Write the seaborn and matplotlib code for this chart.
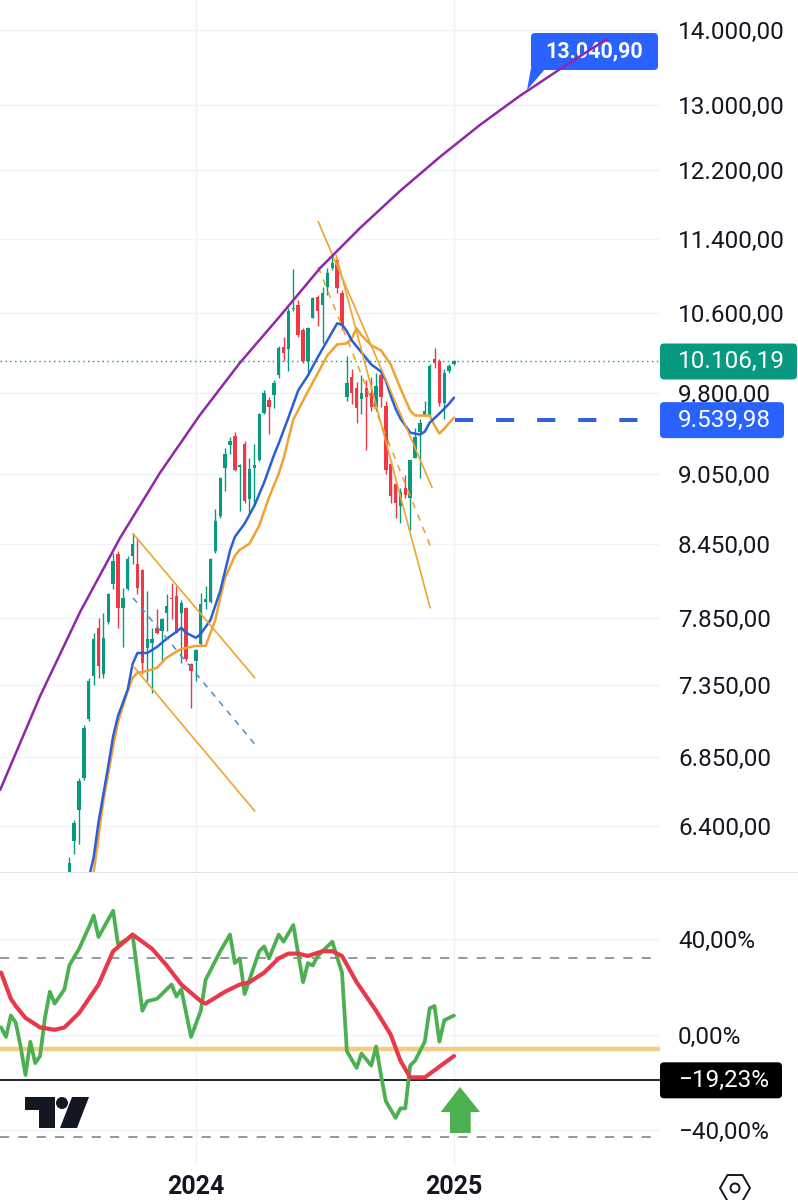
import matplotlib
matplotlib.use("Agg")
import matplotlib.pyplot as plt
from matplotlib.patches import FancyBboxPatch, Polygon, Circle, RegularPolygon, Rectangle
from matplotlib.ticker import FixedLocator, FuncFormatter, NullLocator
import seaborn as sns

# ---------------------------------------------------------------------------
# Data (weekly bars, index 0 = first visible candle, 26 = first week of 2024)
# ---------------------------------------------------------------------------
opens = [6120, 6305, 6500, 6710, 7110, 7420, 7780, 7430, 7820, 8120,
         8365, 7930, 8080, 8350, 8285, 8230, 7625, 7665, 7780, 7755,
         7895, 8010, 8025, 7895, 7930, 7505, 7530, 7655, 7975, 7975,
         8390, 8685, 9105, 9305, 9395, 9110, 9320, 8830, 9100, 9170,
         9610, 9735, 9775, 9970, 10255, 10235, 10640, 10680, 10420, 10115,
         10550, 10765, 10680, 10870, 11075, 11165, 10805, 9755, 9950, 9850,
         9745, 9850, 9800, 9660, 9970, 9675, 9140, 8960, 8770, 8920,
         8840, 9195, 9425, 9585, 9585, 10135, 10115, 9705, 10015, 10080]
highs = [6210, 6440, 6710, 7070, 7400, 7740, 7850, 7890, 8050, 8370,
         8390, 8090, 8350, 8540, 8500, 8245, 8065, 7778, 7925, 7850,
         8040, 8130, 8105, 7990, 7935, 7510, 7620, 8050, 8105, 8330,
         8745, 9020, 9285, 9380, 9425, 9140, 9350, 9195, 9323, 9610,
         9822, 9755, 9920, 10265, 10350, 10650, 11065, 10735, 10440, 10450,
         10765, 10785, 10870, 11075, 11220, 11185, 10838, 10165, 10035, 9900,
         9970, 9920, 9950, 9990, 9995, 9725, 9170, 8975, 8920, 9035,
         9175, 9470, 9550, 9725, 10085, 10245, 10135, 10035, 10085, 10125]
lows = [6080, 6230, 6290, 6700, 7100, 7350, 7400, 7400, 7810, 8080,
        7780, 7630, 8070, 8285, 8040, 7430, 7385, 7296, 7730, 7530,
        7755, 7847, 7740, 7515, 7530, 7190, 7385, 7650, 7925, 7970,
        8375, 8665, 8900, 9230, 9075, 8727, 8790, 8700, 8770, 9165,
        9602, 9415, 9650, 9940, 10115, 10015, 10620, 10350, 10095, 9990,
        10550, 10470, 10290, 10785, 11055, 10815, 10420, 9725, 9695, 9515,
        9600, 9260, 9630, 9630, 9660, 9050, 8790, 8665, 8625, 8840,
        8560, 9190, 9015, 9580, 9565, 10045, 9677, 9555, 9995, 10070]
closes = [6170, 6417, 6690, 7050, 7380, 7695, 7490, 7700, 8040, 8310,
          7930, 8010, 8325, 8450, 8090, 7510, 7695, 7695, 7740, 7847,
          7948, 8000, 7740, 7970, 7545, 7455, 7610, 7965, 8000, 8324,
          8640, 9015, 9230, 9350, 9080, 9125, 8815, 9095, 9125, 9600,
          9795, 9660, 9890, 10245, 10195, 10625, 10655, 10370, 10115, 10440,
          10755, 10625, 10815, 11030, 11130, 10860, 10470, 9890, 9795, 9650,
          9800, 9755, 9660, 9870, 9755, 9080, 8855, 8790, 8885, 8860,
          9170, 9380, 9515, 9630, 10065, 10095, 9705, 9995, 10065, 10106.19]

fast_ma_bar = [4, 5, 6, 8, 9, 10, 12, 13, 14, 16, 18, 20, 22, 23, 24, 26, 27, 29, 31, 33,
               34, 36, 38, 40, 42, 43, 45, 47, 49, 51, 53, 55, 56, 57, 58, 60, 62, 64, 65, 66,
               67, 68, 70, 72, 73, 74, 76, 78, 79]
fast_ma = [6080, 6207, 6425, 6790, 6992, 7132, 7320, 7507, 7588, 7588, 7633, 7695, 7748, 7778,
           7740, 7702, 7732, 7839, 8066, 8390, 8506, 8617, 8770, 8972, 9214, 9323, 9564, 9822,
           9968, 10147, 10318, 10492, 10482, 10410, 10318, 10197, 10077, 10007, 9919, 9774,
           9648, 9555, 9424, 9405, 9433, 9516, 9602, 9696, 9753]

slow_ma_bar = [5, 7, 9, 10, 12, 13, 14, 16, 18, 20, 22, 23, 26, 28, 30, 31, 32, 34, 35, 37,
               39, 41, 43, 44, 46, 49, 53, 55, 57, 58, 59, 60, 62, 64, 66, 68, 70, 71, 74, 75,
               76, 77, 79]
slow_ma = [6115, 6560, 6920, 7090, 7310, 7405, 7441, 7455, 7478, 7553, 7598, 7618, 7641, 7641,
           7840, 8010, 8170, 8349, 8398, 8449, 8600, 8840, 9050, 9187, 9546, 9813, 10167, 10277,
           10288, 10339, 10441, 10370, 10267, 10217, 10077, 9841, 9630, 9583, 9583, 9490,
           9415, 9461, 9564]

arc_bar = [-14.2, -6.0, 2.2, 10.4, 18.6, 26.8, 35.0, 43.3, 51.5, 59.7, 67.9, 76.1,
           84.3, 92.5, 100.8, 110.4]
arc_val = [6632, 7273, 7899, 8495, 9057, 9587, 10091, 10569, 11078, 11523, 11950, 12357,
           12751, 13121, 13473, 13877]

# trend channels: (bar0, bar1), (price0, price1)
chan1_bar = [13.1, 38.1]
chan1_top = [8532, 7405]
chan1_bot = [7492, 6495]
chan1_mid = [8010, 6937]
chan2_top_bar, chan2_top = [51.1, 74.5], [11598, 8927]
chan2_bot_bar, chan2_bot = [54.8, 74.1], [11219, 7932]
chan2_mid_bar, chan2_mid = [51.1, 74.1], [11090, 8432]

last_price = 10106.19
support = 9539.98
support_bar = [79.2, 117.2]
arc_label = "13.040,90"

osc_bar = [-14, -13, -12, -11, -10, -9, -8, -7, -6, -5, -4, -3, -1, 0, 2, 4, 5, 6, 9, 10,
           12, 13, 15, 16, 18, 20, 21, 22, 23, 25, 27, 28, 31, 33, 34, 35, 36, 37, 39, 40,
           41, 43, 44, 46, 48, 49, 50, 51, 53, 54, 56, 57, 59, 60, 62, 63, 64, 65, 67, 68,
           69, 70, 71, 73, 74, 75, 76, 77, 79]
osc = [3, -1, 8, 5, -5, -17, -3, -12, -9, 7, 18, 13, 19, 29, 36, 45, 50, 41, 52, 38,
       40, 42, 10, 14, 15, 19, 21, 16, 19, -1, 10, 23, 35, 42, 30, 32, 17, 23, 35, 37,
       32, 42, 39, 46, 22, 30, 29, 33, 37, 39, 26, -7, -14, -8, -13, -5, -17, -28, -35, -31,
       -31, -13, -11, -3, 11, 12, -3, 6, 8]
signal_bar = [-14, -12, -11, -9, -6, -3, -1, 2, 6, 9, 13, 17, 20, 23, 27, 28, 32, 35, 37, 40,
              43, 45, 47, 49, 52, 54, 56, 59, 63, 66, 68, 70, 73, 75, 77, 79]
signal = [26, 15, 12, 7, 3, 2, 3, 9, 21, 35, 42, 36, 29, 21, 14, 13, 18, 21, 22, 26,
          32, 34, 34, 33, 35, 35, 33, 22, 10, 0, -11, -18, -18, -15, -12, -9]
osc_level = -6
osc_upper, osc_lower = 32, -43
osc_last = -19.23

price_ticks = [6400, 6850, 7350, 7850, 8450, 9050, 9800, 10600, 11400, 12200, 13000, 14000]
osc_ticks = [-40, 0, 40]
year_bars = [26, 79]
year_labels = ["2024", "2025"]

# ---------------------------------------------------------------------------
# Style
# ---------------------------------------------------------------------------
GREEN = "#089981"
RED = "#f23645"
BLUE = "#2a5fd9"
ORANGE = "#f0a330"
PURPLE = "#9027a8"
W, H, DPI = 798, 1200, 100

sns.set_theme(style="white")
plt.rcParams["font.family"] = ["Roboto", "DejaVu Sans"]


def de_num(v):
    s = f"{abs(v):,.2f}".replace(",", "X").replace(".", ",").replace("X", ".")
    return ("\u2212" if v < 0 else "") + s


def tag(fig, x0, x1, yc, h, text, fc, bold=False, size=17.5, zorder=10, tx=None, ax=None):
    # yc is in display pixels from the bottom; x0/x1 in pixels from the left
    host = ax if ax is not None else fig
    box = FancyBboxPatch((x0 / DPI, (yc - h / 2) / DPI), (x1 - x0) / DPI, h / DPI,
                         boxstyle="round,pad=0,rounding_size=0.04",
                         transform=fig.dpi_scale_trans, fc=fc, ec="none",
                         zorder=zorder, clip_on=False)
    host.add_artist(box)
    tx = x0 + 18 if tx is None else tx
    host_text = ax.text if ax is not None else fig.text
    host_text(tx / DPI, yc / DPI, text, transform=fig.dpi_scale_trans, color="white",
              fontsize=size, fontweight="bold" if bold else "normal",
              va="center", ha="left" if ax is None else "center",
              zorder=zorder + 0.5, clip_on=False)


fig = plt.figure(figsize=(W / DPI, H / DPI), dpi=DPI)
fig.patch.set_facecolor("white")

ax = fig.add_axes([0, 1 - 872 / H, 660 / W, 872 / H])
ax2 = fig.add_axes([0, 1 - 1165 / H, 660 / W, (1165 - 876) / H])

# ---------------------------------------------------------------------------
# Price panel
# ---------------------------------------------------------------------------
ax.set_yscale("log")
ax.set_xlim(-14.23, 121.3)
ax.set_ylim(6118, 14419)
for b in year_bars:
    ax.axvline(b, color="#f0f3fa", lw=1, zorder=0)
for t in price_ticks:
    ax.axhline(t, color="#f0f3fa", lw=1, zorder=0)

bars = list(range(len(opens)))
cols = [GREEN if c >= o else RED for o, c in zip(opens, closes)]
ax.vlines(bars, lows, highs, colors=cols, lw=1.0, zorder=3)
body_lo = [min(o, c) for o, c in zip(opens, closes)]
body_h = [max(abs(c - o), 12) for o, c in zip(opens, closes)]
ax.bar(bars, body_h, bottom=body_lo, width=0.7, color=cols, lw=0, zorder=3)

sns.lineplot(x=slow_ma_bar, y=slow_ma, ax=ax, color=ORANGE, lw=1.8, zorder=4, errorbar=None)
sns.lineplot(x=fast_ma_bar, y=fast_ma, ax=ax, color=BLUE, lw=1.8, zorder=4, errorbar=None)
sns.lineplot(x=arc_bar, y=arc_val, ax=ax, color=PURPLE, lw=1.8, zorder=6, errorbar=None)

ax.plot(chan1_bar, chan1_top, color=ORANGE, lw=1.2, zorder=5)
ax.plot(chan1_bar, chan1_bot, color=ORANGE, lw=1.2, zorder=5)
ax.plot(chan1_bar, chan1_mid, color="#4a90c8", lw=1.1, ls=(0, (4, 4)), zorder=5)
ax.plot(chan2_top_bar, chan2_top, color=ORANGE, lw=1.2, zorder=5)
ax.plot(chan2_bot_bar, chan2_bot, color=ORANGE, lw=1.2, zorder=5)
ax.plot(chan2_mid_bar, chan2_mid, color=ORANGE, lw=1.2, ls=(0, (4, 4)), zorder=5)

ax.axhline(last_price, color=GREEN, lw=1.0, ls=(0, (1, 2.5)), zorder=2)
ax.plot(support_bar, [support, support], color="#2f62e0", lw=2.9,
        ls=(0, (4.5, 5.7)), zorder=5, solid_capstyle="butt")

ax.yaxis.tick_right()
ax.yaxis.set_major_locator(FixedLocator(price_ticks))
ax.yaxis.set_minor_locator(NullLocator())
ax.yaxis.set_major_formatter(FuncFormatter(lambda v, p: de_num(v)))
ax.tick_params(axis="y", length=0, pad=13, labelsize=17.5, labelcolor="#131722")
ax.set_xticks([])
ax.set_xlabel("")
ax.set_ylabel("")
for s in ax.spines.values():
    s.set_visible(False)

# price tags (vertical position from the data transform)
fig.canvas.draw()
to_px = lambda a, v: a.transData.transform((0, v))[1]
tag(fig, 660, 797, to_px(ax, last_price), 36, de_num(last_price), GREEN)
tag(fig, 660, 784, to_px(ax, support), 36, de_num(support), "#2962ff")

# callout on the arc
tag(fig, 531, 658, H - 51.5, 37, arc_label, "#2962ff", bold=True, size=15.5,
    zorder=5, tx=594.5, ax=ax)
ax.add_artist(Polygon([(531 / DPI, (H - 68) / DPI), (546 / DPI, (H - 68) / DPI),
                       (527 / DPI, (H - 90) / DPI)], closed=True,
                      transform=fig.dpi_scale_trans, fc="#2962ff", ec="none",
                      zorder=5, clip_on=False))

# ---------------------------------------------------------------------------
# Oscillator panel
# ---------------------------------------------------------------------------
ax2.set_xlim(-14.23, 121.3)
ax2.set_ylim(-54.8, 66.6)
for b in year_bars:
    ax2.axvline(b, color="#f0f3fa", lw=1, zorder=0)
for t in osc_ticks:
    ax2.axhline(t, color="#f0f3fa", lw=1, zorder=0)
ax2.axhline(osc_upper, color="#787b86", lw=1.1, ls=(0, (6, 6)), zorder=1)
ax2.axhline(osc_lower, color="#787b86", lw=1.1, ls=(0, (6, 6)), zorder=1)
ax2.axhline(osc_level, color="#f3c677", lw=3.2, alpha=0.9, zorder=1)
ax2.axhline(osc_last, color="black", lw=1.2, zorder=1)
sns.lineplot(x=osc_bar, y=osc, ax=ax2, color="#4caf50", lw=2.7, zorder=3, errorbar=None)
sns.lineplot(x=signal_bar, y=signal, ax=ax2, color="#e8394a", lw=3.0, zorder=4, errorbar=None)

ax2.yaxis.tick_right()
ax2.yaxis.set_major_locator(FixedLocator(osc_ticks))
ax2.yaxis.set_major_formatter(FuncFormatter(lambda v, p: de_num(v) + "%"))
ax2.tick_params(axis="y", length=0, pad=13, labelsize=17.5, labelcolor="#131722")
ax2.set_xticks(year_bars)
ax2.set_xticklabels(year_labels, fontsize=18, fontweight="bold", color="#131722")
ax2.tick_params(axis="x", length=0, pad=7)
ax2.set_xlabel("")
ax2.set_ylabel("")
for s in ax2.spines.values():
    s.set_visible(False)

fig.canvas.draw()
tag(fig, 660, 782, to_px(ax2, osc_last), 36, de_num(osc_last) + "%", "black")

# panel separator
fig.add_artist(Rectangle((0, (H - 873) / DPI), W / DPI, 1.5 / DPI,
                         transform=fig.dpi_scale_trans, fc="#e0e3eb", ec="none"))

# green up arrow
arrow = [(460, 1087), (480, 1112), (470.7, 1112), (470.7, 1133), (450, 1133),
         (450, 1112), (440.7, 1112)]
fig.add_artist(Polygon([(x / DPI, (H - y) / DPI) for x, y in arrow], closed=True,
                       transform=fig.dpi_scale_trans, fc="#4caf50", ec="none"))

# TradingView logo
logo = "#131722"
fig.add_artist(Polygon([(x / DPI, (H - y) / DPI) for x, y in
                        [(25, 1097), (55, 1097), (55, 1128), (39, 1128), (39, 1110), (25, 1110)]],
                       closed=True, transform=fig.dpi_scale_trans, fc=logo, ec="none"))
fig.add_artist(Circle((62 / DPI, (H - 1103) / DPI), 6 / DPI,
                      transform=fig.dpi_scale_trans, fc=logo, ec="none"))
fig.add_artist(Polygon([(x / DPI, (H - y) / DPI) for x, y in
                        [(72, 1097), (89, 1097), (77, 1128), (60, 1128)]],
                       closed=True, transform=fig.dpi_scale_trans, fc=logo, ec="none"))

# settings hexagon
fig.add_artist(RegularPolygon((735 / DPI, (H - 1188) / DPI), 6, radius=15 / DPI,
                              orientation=0.5236, transform=fig.dpi_scale_trans,
                              fc="none", ec="#131722", lw=1.4))
fig.add_artist(Circle((735 / DPI, (H - 1188) / DPI), 4.5 / DPI,
                      transform=fig.dpi_scale_trans, fc="none", ec="#131722", lw=1.4))

fig.savefig("out.png", dpi=DPI)
